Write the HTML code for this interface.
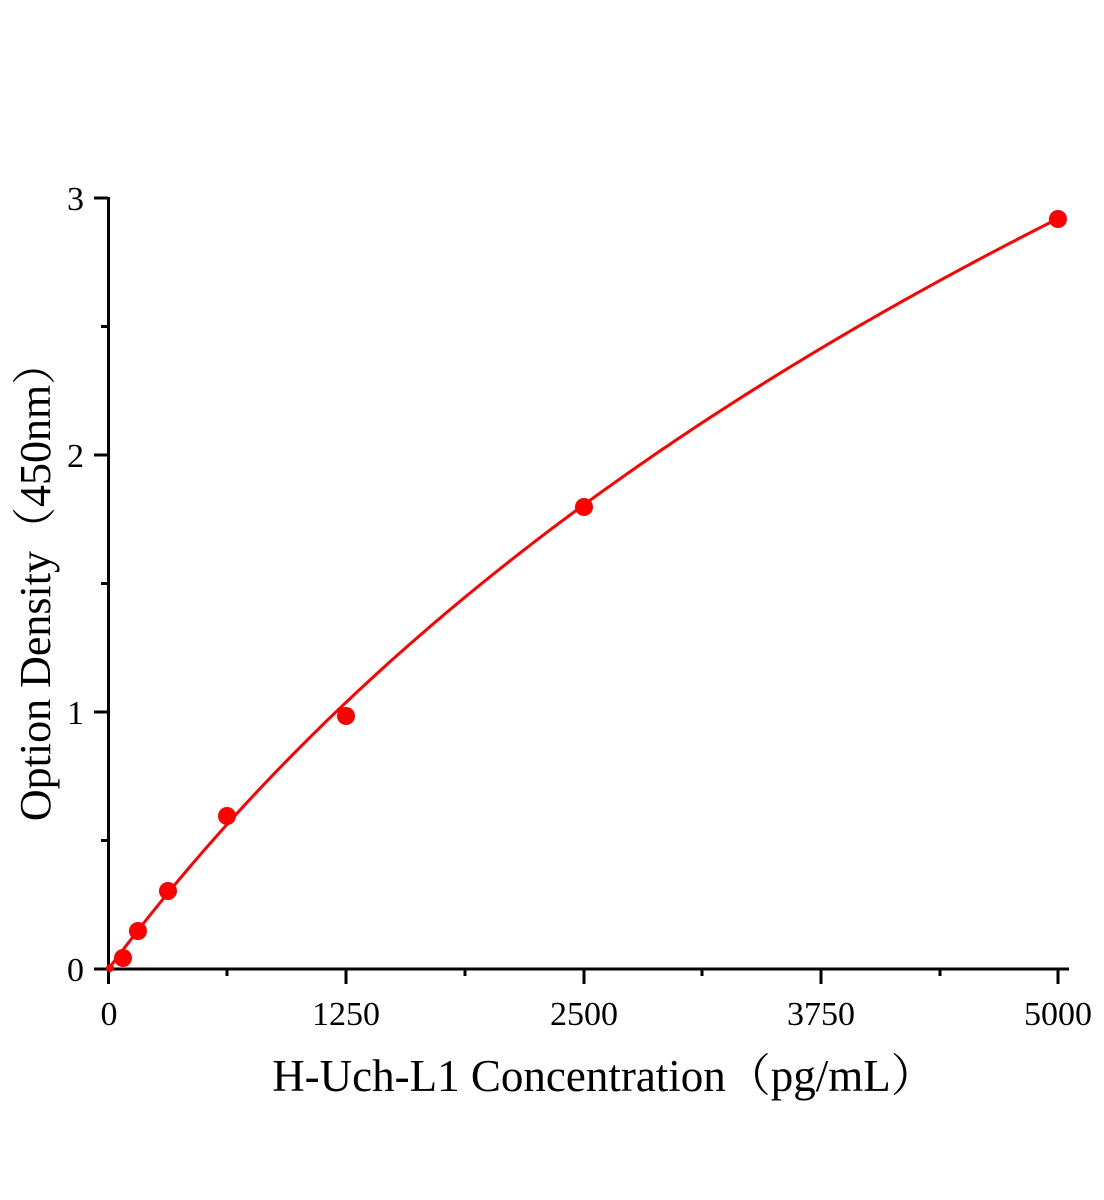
<!DOCTYPE html>
<html><head><meta charset="utf-8"><style>
html,body{margin:0;padding:0;background:#fff;}
svg{display:block;font-family:"Liberation Serif","Noto Serif CJK SC",serif;}
</style></head><body>
<svg id="s" width="1104" height="1200" viewBox="0 0 1104 1200">
<g stroke="#000" stroke-width="3" fill="none">
<line x1="108.5" y1="197" x2="108.5" y2="970"/>
<line x1="94" y1="969" x2="1069" y2="969"/>
<line x1="94" y1="198" x2="108" y2="198"/>
<line x1="94" y1="455" x2="108" y2="455"/>
<line x1="94" y1="712" x2="108" y2="712"/>
<line x1="101" y1="326.5" x2="108" y2="326.5"/>
<line x1="101" y1="583.5" x2="108" y2="583.5"/>
<line x1="101" y1="840.5" x2="108" y2="840.5"/>
<line x1="108.5" y1="969" x2="108.5" y2="984"/>
<line x1="346" y1="969" x2="346" y2="984"/>
<line x1="584" y1="969" x2="584" y2="984"/>
<line x1="821" y1="969" x2="821" y2="984"/>
<line x1="1058" y1="969" x2="1058" y2="984"/>
<line x1="227" y1="969" x2="227" y2="976"/>
<line x1="465" y1="969" x2="465" y2="976"/>
<line x1="702" y1="969" x2="702" y2="976"/>
<line x1="940" y1="969" x2="940" y2="976"/>
</g>
<g font-size="34" fill="#000" text-anchor="end">
<text x="84" y="210">3</text>
<text x="84" y="467">2</text>
<text x="84" y="724">1</text>
<text x="84" y="981">0</text>
</g>
<g font-size="34" fill="#000" text-anchor="middle">
<text x="109" y="1025">0</text>
<text x="346" y="1025">1250</text>
<text x="584" y="1025">2500</text>
<text x="821" y="1025">3750</text>
<text x="1058" y="1025">5000</text>
</g>
<text x="604" y="1091" font-size="45" text-anchor="middle">H-Uch-L1 Concentration（pg/mL）</text>
<text transform="translate(50,581) rotate(-90)" font-size="44" text-anchor="middle">Option Density（450nm）</text>
<path id="curve" fill="none" stroke="#f00" stroke-width="3"/>
<g fill="#f00" id="pts"></g>
</svg>
<script>
var X=function(v){return 108.5+v*949.5/5000;},Y=function(v){return 969-v*257;};
var d="";
for(var i=0;i<=200;i++){var x=5000*i/200;var y=2.977*Math.log(1+x/3000);d+=(i?" L":"M")+X(x).toFixed(2)+","+Y(y).toFixed(2);}
document.getElementById("curve").setAttribute("d",d);
var pts=[[110,968],[123,958],[138,931],[168,891],[227,816],[346,716],[584,507],[1058,219]];
var g=document.getElementById("pts"),h="";
pts.forEach(function(q,i){h+='<circle cx="'+q[0]+'" cy="'+q[1]+'" r="'+(i==0?4:9)+'"/>';});
g.innerHTML=h;
</script>
</body></html>
